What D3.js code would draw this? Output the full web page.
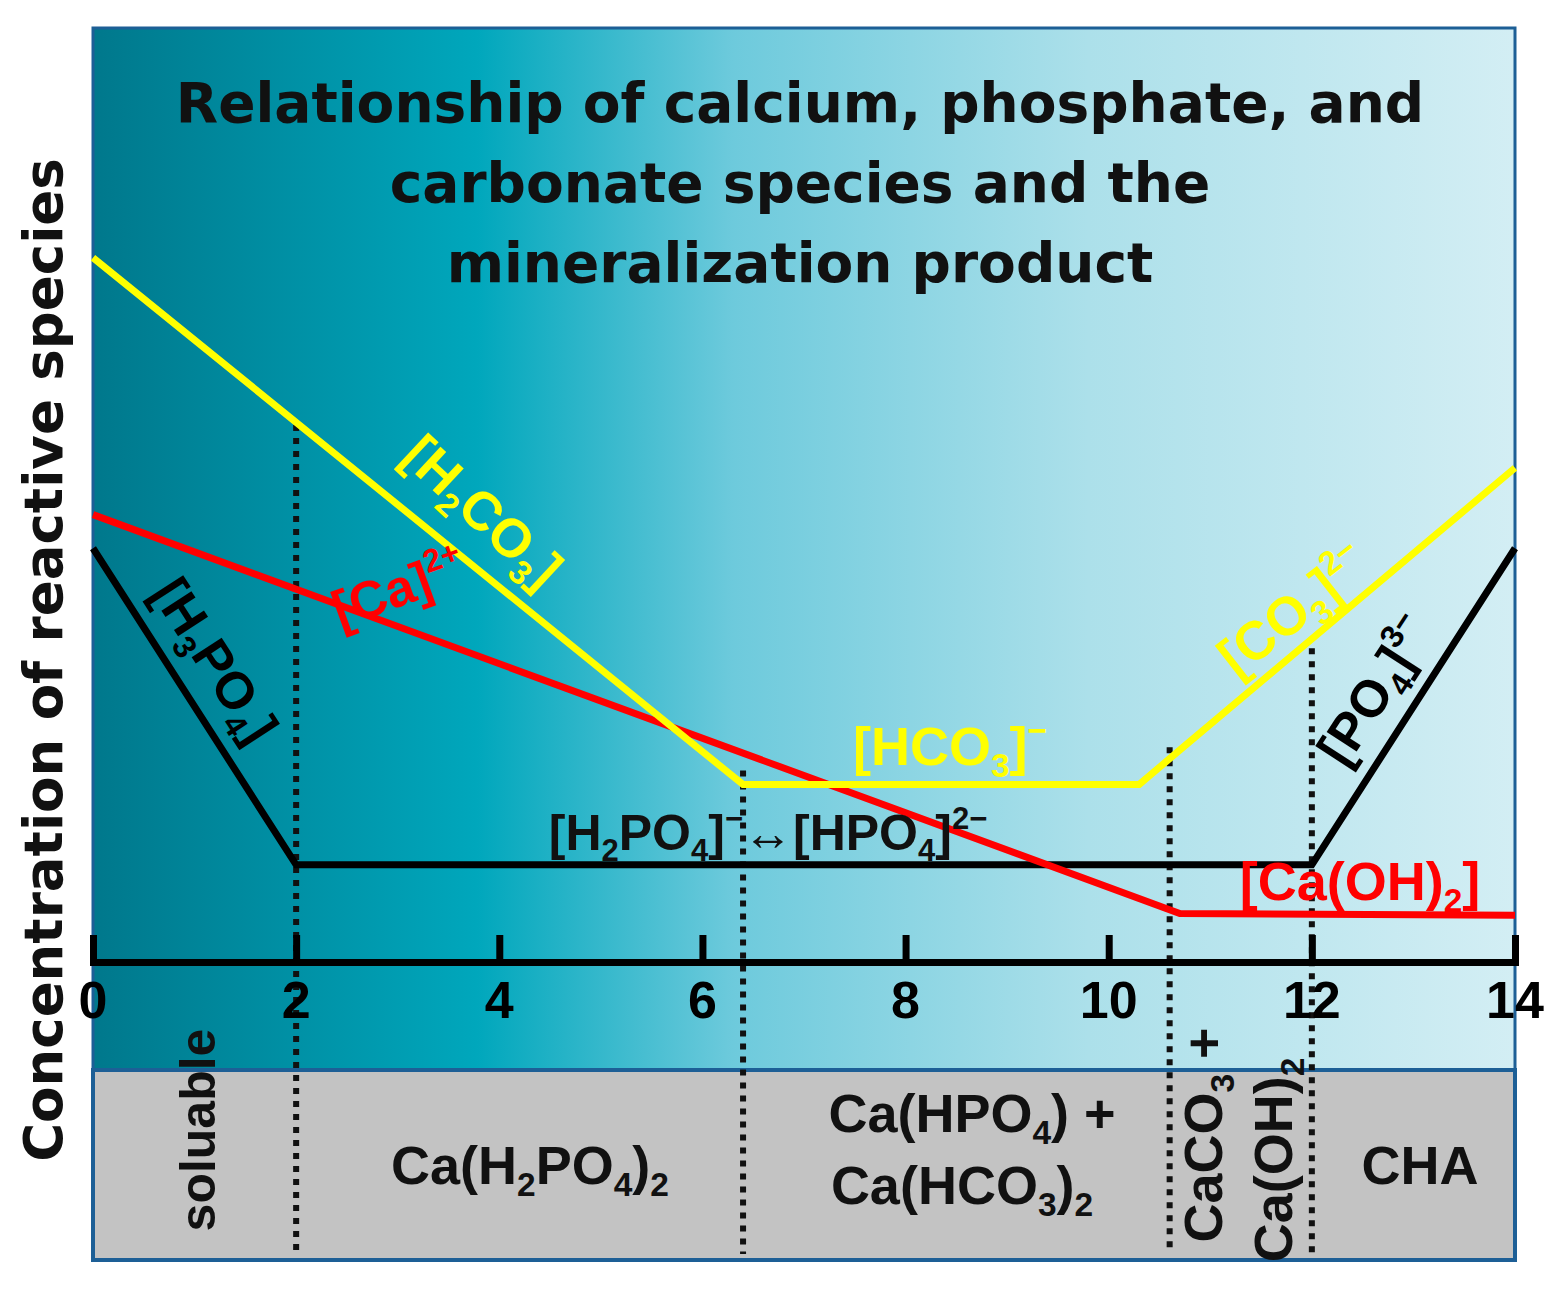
<!DOCTYPE html>
<html><head><meta charset="utf-8">
<script src="https://cdn.jsdelivr.net/npm/d3@7"></script>
<style>body{margin:0;background:#fff}</style>
</head><body>
<svg id="chart" width="1566" height="1292"></svg>
<script>
// pH axis ticks
const phTicks = [0, 2, 4, 6, 8, 10, 12, 14];
// series: [pH, relative concentration]
const carbonate = [[0, 75.4], [6.4, 19.0], [10.3, 19.0], [10.7, 22.7], [14, 52.9]];
const calcium = [[0, 47.9], [10.7, 5.2], [14, 5.0]];
const phosphate = [[0, 44.3], [2, 10.4], [12, 10.4], [14, 44.3]];
// region boundaries (pH) with top of dotted line (concentration)
const boundaries = [[2, 57.5], [6.4, 20.5], [10.6, 23.0], [12, 33.6]];

const svg = d3.select('#chart');
const L = 93, R = 1515, T = 28, B = 1070, G = 1260, AX = 962;
const x = d3.scaleLinear().domain([0, 14]).range([L, R]);
const y = d3.scaleLinear().domain([0, 100]).range([AX, AX - 934]);

// background gradient
const grad = svg.append('defs').append('linearGradient').attr('id', 'bg');
[[0, '#00788c'], [0.27, '#00a7bc'], [0.45, '#6dcadc'], [0.7, '#ace0ea'], [1, '#d3eef4']]
    .forEach(function(s){ grad.append('stop').attr('offset', s[0]).attr('stop-color', s[1]); });
svg.append('rect').attr('x', L).attr('y', T).attr('width', R - L).attr('height', B - T)
    .attr('fill', 'url(#bg)').attr('stroke', '#1d5f96').attr('stroke-width', 3);
svg.append('rect').attr('x', L).attr('y', B).attr('width', R - L).attr('height', G - B)
    .attr('fill', '#c3c3c3').attr('stroke', '#1d5f96').attr('stroke-width', 4);

// rich text helper: segments [text, 'sub'|'sup'|null]
function rich(g, segs, size){
    const t = g.append('text').attr('font-size', size);
    let shift = 0;
    segs.forEach(function(s){
        const sp = t.append('tspan').text(s[0]);
        let dy = 0;
        if(s[1] === 'sub'){ sp.attr('font-size', size * 0.62); dy = size * 0.22; }
        else if(s[1] === 'sup'){ sp.attr('font-size', size * 0.62); dy = -size * 0.42; }
        sp.attr('dy', dy - shift);
        shift = dy;
    });
    return t;
}
function label(segs, px, py, rot, size, color, weight, anchor){
    const g = svg.append('g').attr('transform', `translate(${px},${py}) rotate(${rot})`)
        .attr('fill', color).attr('font-family', 'Liberation Sans, Arial, sans-serif')
        .attr('font-weight', weight || 'bold');
    rich(g, segs, size).attr('text-anchor', anchor || 'middle');
    return g;
}

// dotted boundaries
svg.selectAll('.bound').data(boundaries).enter().append('line')
    .attr('x1', d => x(d[0])).attr('x2', d => x(d[0]))
    .attr('y1', d => y(d[1])).attr('y2', G - 6)
    .attr('stroke', '#111').attr('stroke-width', 6).attr('stroke-dasharray', '6,7');

// axis
const axis = d3.axisTop(x).tickValues(phTicks).tickSize(27).tickFormat('');
const ag = svg.append('g').attr('transform', `translate(0,${AX})`).call(axis);
ag.select('.domain').attr('stroke', '#000').attr('stroke-width', 7);
ag.selectAll('.tick line').attr('stroke', '#000').attr('stroke-width', 7);
svg.selectAll('.ticklab').data(phTicks).enter().append('text')
    .attr('x', d => x(d)).attr('y', 1018).attr('text-anchor', 'middle')
    .attr('font-family', 'Liberation Sans, Arial, sans-serif').attr('font-weight', 'bold')
    .attr('font-size', 52).text(d => d);

// lines
const line = d3.line().x(d => x(d[0])).y(d => y(d[1]));
[[phosphate, '#000'], [calcium, '#ff0000'], [carbonate, '#ffff00']].forEach(function(s){
    svg.append('path').datum(s[0]).attr('d', line).attr('fill', 'none')
        .attr('stroke', s[1]).attr('stroke-width', 7);
});

// title
const title = ['Relationship of calcium, phosphate, and', 'carbonate species and the', 'mineralization product'];
svg.selectAll('.title').data(title).enter().append('text')
    .attr('x', 800).attr('y', (d, i) => 122 + i * 80).attr('text-anchor', 'middle')
    .attr('font-family', 'DejaVu Sans, Verdana, sans-serif').attr('font-weight', 'bold')
    .attr('font-size', 55).attr('fill', '#111').text(d => d);

// y label
svg.append('text').attr('transform', 'translate(62,660) rotate(-90)').attr('text-anchor', 'middle')
    .attr('font-family', 'DejaVu Sans, Verdana, sans-serif').attr('font-weight', 'bold')
    .attr('font-size', 53).attr('fill', '#111').text('Concentration of reactive species');

// species labels
label([['[H'], ['2', 'sub'], ['CO'], ['3', 'sub'], [']']], 470, 525, 43, 54, '#ffff00');
label([['[Ca]'], ['2+', 'sup']], 405, 605, -20, 52, '#ff0000');
label([['[H'], ['3', 'sub'], ['PO'], ['4', 'sub'], [']']], 200, 670, 57, 52, '#000');
label([['[HCO'], ['3', 'sub'], [']'], ['\u2212', 'sup']], 950, 765, 0, 54, '#ffff00');
label([['[H'], ['2', 'sub'], ['PO'], ['4', 'sub'], [']'], ['\u2212', 'sup'], ['\u2194[HPO'], ['4', 'sub'], [']'], ['2\u2212', 'sup']],
    768, 850, 0, 50, '#111');
label([['[CO'], ['3', 'sub'], [']'], ['2\u2212', 'sup']], 1305, 625, -38, 54, '#ffff00');
label([['[PO'], ['4', 'sub'], [']'], ['3\u2212', 'sup']], 1390, 700, -57, 52, '#000');
label([['[Ca(OH)'], ['2', 'sub'], [']']], 1360, 900, 0, 54, '#ff0000');

// product region labels
label([['soluable']], 215, 1130, -90, 50, '#111');
label([['Ca(H'], ['2', 'sub'], ['PO'], ['4', 'sub'], [')'], ['2', 'sub']], 530, 1184, 0, 54, '#111', '600');
label([['Ca(HPO'], ['4', 'sub'], [') +']], 972, 1132, 0, 54, '#111', '600');
label([['Ca(HCO'], ['3', 'sub'], [')'], ['2', 'sub']], 962, 1204, 0, 54, '#111', '600');
label([['CaCO'], ['3', 'sub'], [' +']], 1222, 1135, -90, 54, '#111', '600');
label([['Ca(OH)'], ['2', 'sub']], 1292, 1160, -90, 54, '#111', '600');
label([['CHA']], 1420, 1184, 0, 54, '#111');
</script>
</body></html>
